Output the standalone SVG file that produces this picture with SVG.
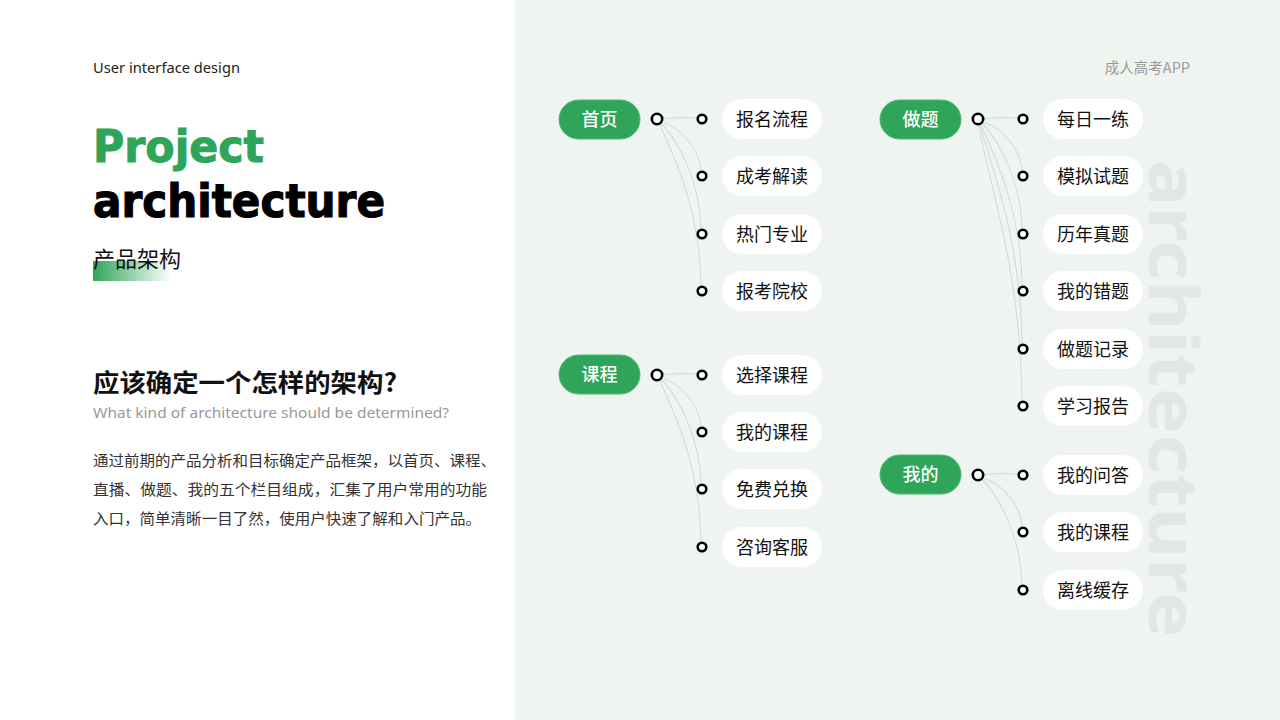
<svg xmlns="http://www.w3.org/2000/svg" width="1280" height="720" viewBox="0 0 1280 720">
<defs>
<linearGradient id="bar" x1="0" y1="0" x2="1" y2="0">
<stop offset="0" stop-color="#2ea558"/>
<stop offset="1" stop-color="#2ea558" stop-opacity="0"/>
</linearGradient>
<style>
.cn{font-family:"Noto Sans CJK SC","Noto Sans",sans-serif}
.en{font-family:"Noto Sans","Liberation Sans",sans-serif}
.main rect{fill:#2ea558;stroke:#4fba74;stroke-width:1}
.main text{fill:#fff;font-size:18px;font-weight:500;text-anchor:middle;dominant-baseline:central;font-family:"Noto Sans CJK SC",sans-serif}
.sub rect{fill:#fff}
.sub text{fill:#111;font-size:18px;text-anchor:middle;dominant-baseline:central;font-family:"Noto Sans CJK SC",sans-serif}
.hub{fill:#fff;stroke:#000;stroke-width:2.6}
.dot{fill:#fff;stroke:#000;stroke-width:2.6}
#connectors path{fill:none;stroke:#d3dbd4;stroke-width:1.1}
</style>
</defs>
<rect x="0" y="0" width="1280" height="720" fill="#ffffff"/>
<rect x="515" y="0" width="765" height="720" fill="#f0f4f1"/>
<text transform="translate(1149,160) rotate(90)" font-family="'Noto Sans','DejaVu Sans',sans-serif" font-weight="bold" font-size="68" fill="#e2e7e3" textLength="478" lengthAdjust="spacingAndGlyphs">architecture</text>

<g id="left-text">
<text x="93" y="73" class="en" font-size="14" fill="#222" textLength="147" lengthAdjust="spacingAndGlyphs">User interface design</text>
<text x="93" y="162" font-family="'DejaVu Sans','Noto Sans',sans-serif" font-weight="bold" font-size="44" fill="#2ea558" stroke="#2ea558" stroke-width="1" textLength="171" lengthAdjust="spacingAndGlyphs">Project</text>
<text x="93" y="217" font-family="'DejaVu Sans','Noto Sans',sans-serif" font-weight="bold" font-size="46" fill="#000" stroke="#000" stroke-width="1.2" textLength="292" lengthAdjust="spacingAndGlyphs">architecture</text>
<rect x="93" y="261" width="78" height="20" fill="url(#bar)"/>
<text x="93" y="267" class="cn" font-size="22" fill="#111">产品架构</text>
<text x="93" y="392" class="cn" font-size="25" font-weight="bold" fill="#111" textLength="304" lengthAdjust="spacingAndGlyphs">应该确定一个怎样的架构?</text>
<text x="93" y="418" class="en" font-size="14.5" fill="#999" textLength="356" lengthAdjust="spacingAndGlyphs">What kind of architecture should be determined?</text>
<text x="93" y="466" class="cn" font-size="15" fill="#333" textLength="403" lengthAdjust="spacingAndGlyphs">通过前期的产品分析和目标确定产品框架，以首页、课程、</text>
<text x="93" y="495" class="cn" font-size="15" fill="#333" textLength="394" lengthAdjust="spacingAndGlyphs">直播、做题、我的五个栏目组成，汇集了用户常用的功能</text>
<text x="93" y="524" class="cn" font-size="15" fill="#333" textLength="388" lengthAdjust="spacingAndGlyphs">入口，简单清晰一目了然，使用户快速了解和入门产品。</text>
<text x="1190" y="73" class="cn" font-size="14.5" fill="#999" text-anchor="end">成人高考APP</text>
</g>

<g id="connectors">
<path d="M662,119 Q680,117 697,118"/>
<path d="M660,122 C680,125 700,150 701,171"/>
<path d="M660,122 C674,136 700,176 701,229"/>
<path d="M659,123 C670,148 700,205 701,286"/>
<path d="M662,375 Q680,373 697,374"/>
<path d="M660,378 C680,381 700,406 701,427"/>
<path d="M660,378 C674,392 700,432 701,484"/>
<path d="M659,379 C670,404 700,461 701,542"/>
<path d="M983,119 Q1001,117 1018,118"/>
<path d="M981,122 C1001,125 1021,150 1022,171"/>
<path d="M981,122 C995,136 1021,176 1022,229"/>
<path d="M980,123 C991,148 1021,205 1022,286"/>
<path d="M980,123 C988,160 1021,233 1022,344"/>
<path d="M979,124 C984,170 1021,262 1022,401"/>
<path d="M983,475 Q1001,473 1018,474"/>
<path d="M981,478 C1001,481 1021,506 1022,527"/>
<path d="M981,478 C995,492 1021,532 1022,585"/>
</g>

<g id="node-shouye" class="main"><rect x="559" y="100" width="81" height="39" rx="19.5"/><text x="599.5" y="118">首页</text></g>
<g id="node-kecheng" class="main"><rect x="559" y="355" width="81" height="39" rx="19.5"/><text x="599.5" y="373">课程</text></g>
<g id="node-zuoti" class="main"><rect x="880" y="100" width="81" height="39" rx="19.5"/><text x="920.5" y="118">做题</text></g>
<g id="node-wode" class="main"><rect x="880" y="455" width="81" height="39" rx="19.5"/><text x="920.5" y="473">我的</text></g>

<g id="hubs">
<circle class="hub" cx="657" cy="119" r="5.2"/>
<circle class="hub" cx="657" cy="375" r="5.2"/>
<circle class="hub" cx="978" cy="119" r="5.2"/>
<circle class="hub" cx="978" cy="475" r="5.2"/>
</g>

<g id="node-bmlc" class="sub"><circle class="dot" cx="702" cy="119" r="4.3"/><rect x="722" y="99" width="100" height="40" rx="20"/><text x="772" y="117.5">报名流程</text></g>
<g id="node-ckjd" class="sub"><circle class="dot" cx="702" cy="176" r="4.3"/><rect x="722" y="156" width="100" height="40" rx="20"/><text x="772" y="174.5">成考解读</text></g>
<g id="node-rmzy" class="sub"><circle class="dot" cx="702" cy="234" r="4.3"/><rect x="722" y="214" width="100" height="40" rx="20"/><text x="772" y="232.5">热门专业</text></g>
<g id="node-bkyx" class="sub"><circle class="dot" cx="702" cy="291" r="4.3"/><rect x="722" y="271" width="100" height="40" rx="20"/><text x="772" y="289.5">报考院校</text></g>

<g id="node-xzkc" class="sub"><circle class="dot" cx="702" cy="375" r="4.3"/><rect x="722" y="355" width="100" height="40" rx="20"/><text x="772" y="373.5">选择课程</text></g>
<g id="node-wdkc1" class="sub"><circle class="dot" cx="702" cy="432" r="4.3"/><rect x="722" y="412" width="100" height="40" rx="20"/><text x="772" y="430.5">我的课程</text></g>
<g id="node-mfdh" class="sub"><circle class="dot" cx="702" cy="489" r="4.3"/><rect x="722" y="469" width="100" height="40" rx="20"/><text x="772" y="487.5">免费兑换</text></g>
<g id="node-zxkf" class="sub"><circle class="dot" cx="702" cy="547" r="4.3"/><rect x="722" y="527" width="100" height="40" rx="20"/><text x="772" y="545.5">咨询客服</text></g>

<g id="node-mryl" class="sub"><circle class="dot" cx="1023" cy="119" r="4.3"/><rect x="1043" y="99" width="100" height="40" rx="20"/><text x="1093" y="117.5">每日一练</text></g>
<g id="node-mnst" class="sub"><circle class="dot" cx="1023" cy="176" r="4.3"/><rect x="1043" y="156" width="100" height="40" rx="20"/><text x="1093" y="174.5">模拟试题</text></g>
<g id="node-lnzt" class="sub"><circle class="dot" cx="1023" cy="234" r="4.3"/><rect x="1043" y="214" width="100" height="40" rx="20"/><text x="1093" y="232.5">历年真题</text></g>
<g id="node-wdct" class="sub"><circle class="dot" cx="1023" cy="291" r="4.3"/><rect x="1043" y="271" width="100" height="40" rx="20"/><text x="1093" y="289.5">我的错题</text></g>
<g id="node-ztjl" class="sub"><circle class="dot" cx="1023" cy="349" r="4.3"/><rect x="1043" y="329" width="100" height="40" rx="20"/><text x="1093" y="347.5">做题记录</text></g>
<g id="node-xxbg" class="sub"><circle class="dot" cx="1023" cy="406" r="4.3"/><rect x="1043" y="386" width="100" height="40" rx="20"/><text x="1093" y="404.5">学习报告</text></g>

<g id="node-wdwd" class="sub"><circle class="dot" cx="1023" cy="475" r="4.3"/><rect x="1043" y="455" width="100" height="40" rx="20"/><text x="1093" y="473.5">我的问答</text></g>
<g id="node-wdkc2" class="sub"><circle class="dot" cx="1023" cy="532" r="4.3"/><rect x="1043" y="512" width="100" height="40" rx="20"/><text x="1093" y="530.5">我的课程</text></g>
<g id="node-lxhc" class="sub"><circle class="dot" cx="1023" cy="590" r="4.3"/><rect x="1043" y="570" width="100" height="40" rx="20"/><text x="1093" y="588.5">离线缓存</text></g>
</svg>
